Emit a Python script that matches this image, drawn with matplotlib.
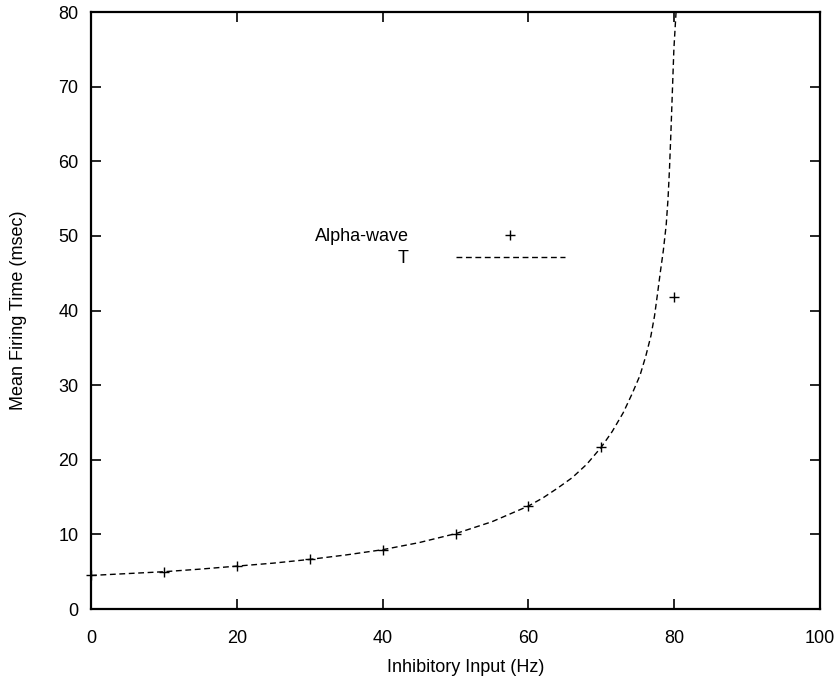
import matplotlib
matplotlib.use("Agg")
import matplotlib.pyplot as plt

plt.rcParams['font.family'] = ['Liberation Sans', 'DejaVu Sans']

# Alpha-wave simulation points
alpha_x = [0, 10, 20, 30, 40, 50, 60, 70, 80]
alpha_y = [4.5, 5.0, 5.75, 6.65, 7.95, 10.1, 13.8, 21.7, 41.8]

# Theoretical curve T
t_x = [0, 5, 10, 15, 20, 25, 30, 35, 40, 45, 50, 55, 60, 62, 64, 66, 68, 70,
       71.5, 73, 74.2, 75.3, 76.1, 76.8, 77.3, 77.7, 78.1, 78.5, 78.9,
       79.15, 79.35, 79.55, 79.75, 79.95, 80.25]
t_y = [4.5, 4.75, 5.0, 5.35, 5.75, 6.15, 6.65, 7.25, 7.95, 8.9, 10.1, 11.7,
       13.8, 14.9, 16.2, 17.6, 19.4, 21.7, 23.8, 26.3, 28.8, 31.3, 33.9,
       36.6, 39.3, 42.2, 45.2, 48.0, 51.5, 55.0, 59.0, 64.0, 69.5, 75.0,
       80.0]

xticks = [0, 20, 40, 60, 80, 100]
yticks = [0, 10, 20, 30, 40, 50, 60, 70, 80]

fig = plt.figure(figsize=(8.36, 6.83), dpi=100)
ax = fig.add_axes([0.1089, 0.1083, 0.9809 - 0.1089, 0.9824 - 0.1083])

ax.plot(alpha_x, alpha_y, linestyle='none', marker='+', color='black',
        markersize=7.5, markeredgewidth=1.0, label='Alpha-wave', clip_on=False)
ax.plot(t_x, t_y, linestyle=(0, (4.2, 2.6)), color='black', linewidth=1.0,
        label='T')

ax.set_xlim(0, 100)
ax.set_ylim(0, 80)
ax.set_xticks(xticks)
ax.set_yticks(yticks)
ax.tick_params(direction='in', length=7.5, width=1.2, top=True, right=True,
               labelsize=13, colors='black')
ax.tick_params(axis='x', pad=15)
ax.tick_params(axis='y', pad=9)
for s in ax.spines.values():
    s.set_linewidth(1.6)

ax.set_xlabel('Inhibitory Input (Hz)', fontsize=13)
ax.set_ylabel('Mean Firing Time (msec)', fontsize=13)
ax.xaxis.set_label_coords(0.514, -0.083)
ax.yaxis.set_label_coords(-0.088, 0.5)

leg = ax.legend(loc='upper right', bbox_to_anchor=(0.650, 0.638),
                frameon=False, markerfirst=False, numpoints=1,
                handlelength=6.05, handletextpad=2.6, labelspacing=0.29,
                borderpad=0, borderaxespad=0, fontsize=13)

fig.savefig('out.png', dpi=100)
